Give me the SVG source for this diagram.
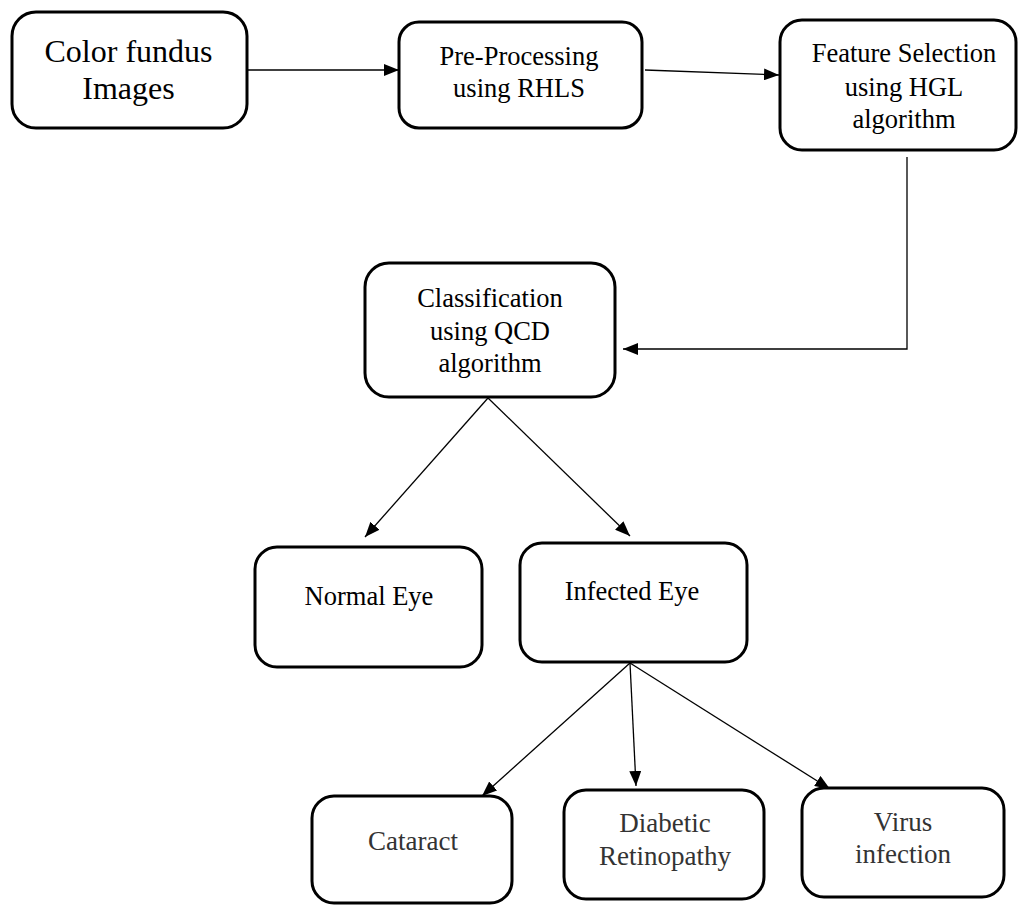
<svg xmlns="http://www.w3.org/2000/svg" width="1019" height="905" viewBox="0 0 1019 905">
<style>
.box{fill:#fff;stroke:#000;stroke-width:3}
.t{font-family:"Liberation Serif","Times New Roman",serif;font-size:26.5px;fill:#000;text-anchor:middle}
.big{font-size:32px}
.g{fill:#333;font-size:27px}
.c{stroke:#000;stroke-width:1.3;fill:none}
</style>
<defs>
<marker id="ah" viewBox="0 0 15 12" refX="15" refY="6" markerWidth="15" markerHeight="12" markerUnits="userSpaceOnUse" orient="auto">
<path d="M0,0 L15,6 L0,12 z" fill="#000"/>
</marker>
</defs>
<g id="connectors">
<line class="c" x1="248" y1="70" x2="399" y2="70" marker-end="url(#ah)"/>
<line class="c" x1="645" y1="70" x2="779" y2="75" marker-end="url(#ah)"/>
<polyline class="c" points="907,157 907,349 623,349" marker-end="url(#ah)"/>
<line class="c" x1="488" y1="398" x2="365" y2="537" marker-end="url(#ah)"/>
<line class="c" x1="488" y1="398" x2="630" y2="536" marker-end="url(#ah)"/>
<line class="c" x1="630" y1="663" x2="482" y2="796" marker-end="url(#ah)"/>
<line class="c" x1="630" y1="663" x2="636" y2="786" marker-end="url(#ah)"/>
<line class="c" x1="630" y1="663" x2="830" y2="789" marker-end="url(#ah)"/>
</g>
<g id="n1"><rect class="box" x="12" y="12" width="235" height="116" rx="24"/>
<text class="t big" x="128.5" y="62">Color fundus</text><text class="t big" x="128.5" y="99">Images</text></g>
<g id="n2"><rect class="box" x="399" y="22" width="243" height="106" rx="20"/>
<text class="t" x="519" y="65">Pre-Processing</text><text class="t" x="519" y="97">using RHLS</text></g>
<g id="n3"><rect class="box" x="780" y="20" width="236" height="130" rx="22"/>
<text class="t" x="904" y="62">Feature Selection</text><text class="t" x="904" y="96">using HGL</text><text class="t" x="904" y="128">algorithm</text></g>
<g id="n4"><rect class="box" x="365" y="263" width="250" height="134" rx="24"/>
<text class="t" x="490" y="307">Classification</text><text class="t" x="490" y="340">using QCD</text><text class="t" x="490" y="372">algorithm</text></g>
<g id="n5"><rect class="box" x="255" y="547" width="227" height="120" rx="22"/>
<text class="t" x="369" y="605">Normal Eye</text></g>
<g id="n6"><rect class="box" x="520" y="543" width="227" height="119" rx="22"/>
<text class="t" x="632" y="600">Infected Eye</text></g>
<g id="n7"><rect class="box" x="312" y="796" width="200" height="107" rx="22"/>
<text class="t g" x="413" y="850">Cataract</text></g>
<g id="n8"><rect class="box" x="564" y="790" width="200" height="109" rx="22"/>
<text class="t g" x="665" y="832">Diabetic</text><text class="t g" x="665" y="865">Retinopathy</text></g>
<g id="n9"><rect class="box" x="802" y="788" width="202" height="109" rx="22"/>
<text class="t g" x="903" y="831">Virus</text><text class="t g" x="903" y="863">infection</text></g>
</svg>
